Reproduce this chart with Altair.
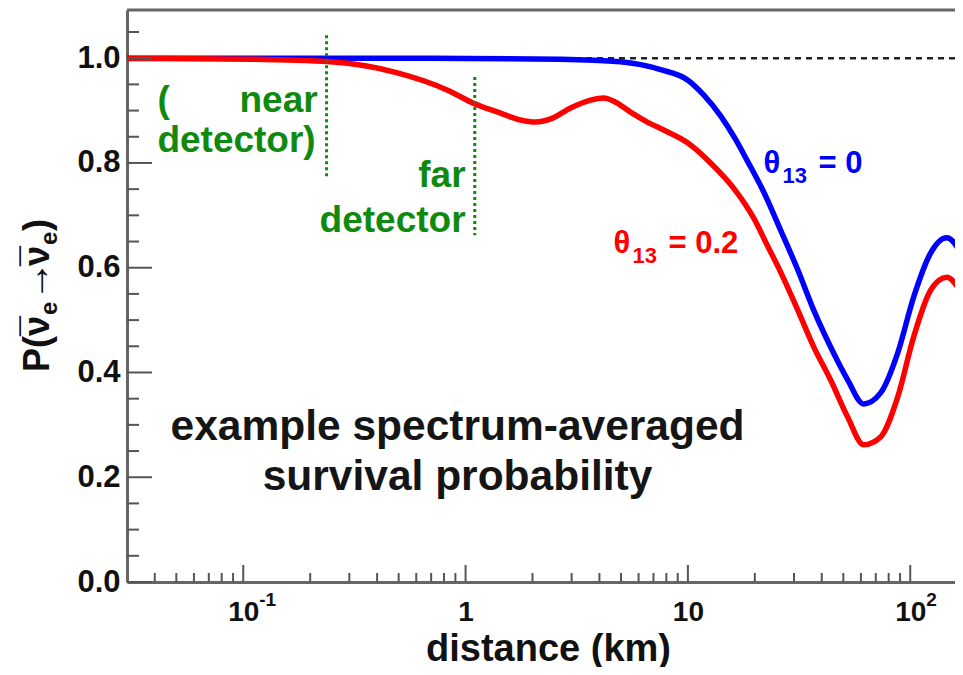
import altair as alt
import pandas as pd

# ---- data ----
blue_km = [0.03, 0.181, 1.0, 2.67, 4.98, 7.54, 10.0, 11.77, 14.03, 16.39, 18.56, 21.9, 26.1,
           31.2, 36.8, 43.8, 52.3, 61.7, 73.6, 87.8, 103.6, 123.5, 145.8, 173.9]
blue_p = [1.0, 1.0, 0.9995, 0.998, 0.993, 0.978, 0.958, 0.93, 0.89, 0.845, 0.803, 0.745, 0.672,
          0.596, 0.519, 0.449, 0.386, 0.340, 0.361, 0.437, 0.544, 0.628, 0.657, 0.620]

red_km = [0.03, 0.108, 0.247, 0.494, 0.830, 1.086, 1.437, 1.767, 2.065, 2.413, 2.967, 3.65,
          4.18, 4.73, 5.52, 6.45, 7.94, 10.0, 12.65, 16.05, 19.75, 22.8, 26.1, 31.2, 36.8,
          43.8, 52.3, 61.7, 73.6, 87.8, 103.6, 123.5, 145.8, 173.9]
red_p = [0.9995, 0.998, 0.993, 0.972, 0.939, 0.914, 0.895, 0.882, 0.878, 0.884, 0.905, 0.920,
         0.924, 0.916, 0.897, 0.880, 0.861, 0.838, 0.800, 0.752, 0.695, 0.642, 0.592, 0.519, 0.449,
         0.386, 0.315, 0.262, 0.277, 0.353, 0.468, 0.557, 0.582, 0.544]

series_names = ["θ13 = 0", "θ13 = 0.2"]
series_colors = ["#0000ff", "#ff0000"]

x_major = [0.1, 1, 10, 100]
x_minor = [0.04, 0.05, 0.06, 0.07, 0.08, 0.09,
           0.2, 0.3, 0.4, 0.5, 0.6, 0.7, 0.8, 0.9,
           2, 3, 4, 5, 6, 7, 8, 9,
           20, 30, 40, 50, 60, 70, 80, 90]
y_major = [0.0, 0.2, 0.4, 0.6, 0.8, 1.0]
y_minor = [0.05, 0.1, 0.15, 0.25, 0.3, 0.35, 0.45, 0.5, 0.55, 0.65, 0.7, 0.75, 0.85, 0.9, 0.95, 1.05]

sup_x = [0.1, 100]
sup_text = ["-1", "2"]

det_x = [0.237, 1.1]
det_y1 = [1.044, 0.964]
det_y2 = [0.773, 0.662]

green_left_text = ["(", "detector)"]
green_left_x = [0.0411, 0.0411]
green_left_y = [0.897, 0.821]
green_right_text = ["near", "far", "detector"]
green_right_x = [0.216, 1.0, 1.0]
green_right_y = [0.897, 0.754, 0.668]

theta_x = [21.9, 4.63]
theta_y = [0.781, 0.628]
theta_eq = ["= 0", "= 0.2"]

note_text = ["example spectrum-averaged", "survival probability"]
note_x = [0.92, 0.92]
note_y = [0.271, 0.176]

# y-axis title anchor (start of the rotated text), in data units
ytitle_x = [0.01337]
ytitle_y = [0.401]

# ---- layout constants ----
W, H = 828, 572
XDOM = [0.03, 159]
YDOM = [0, 1.092]
FONT = "Liberation Sans"
GREEN = "#0f8a0f"
AXC = "#666666"
INK = "#111111"

xs = alt.Scale(type="log", domain=XDOM)
ys = alt.Scale(domain=YDOM)

xaxis = alt.Axis(
    values=x_major, ticks=False, tickSize=0, grid=False, domainColor=AXC, domainWidth=3,
    labelExpr="datum.value == 1 ? '1' : '10'", labelFont=FONT, labelFontWeight="bold",
    labelFontSize=28, labelColor=INK, labelPadding=16, labelBaseline="top",
    title="distance (km)", titleFont=FONT, titleFontWeight="bold", titleFontSize=38,
    titleColor=INK, titleX=421, titleY=78, titleBaseline="alphabetic", labelFlush=False)
yaxis = alt.Axis(
    values=y_major, format=".1f", ticks=False, tickSize=0, grid=False, domainColor=AXC,
    domainWidth=3, labelFont=FONT, labelFontWeight="bold", labelFontSize=31,
    labelColor=INK, labelPadding=7, labelFlush=False, title="")


def X(field):
    return alt.X(field, type="quantitative", scale=xs, axis=xaxis)


def Y(field):
    return alt.Y(field, type="quantitative", scale=ys, axis=yaxis)


curves = pd.DataFrame({
    "km": blue_km + red_km,
    "p": blue_p + red_p,
    "s": [series_names[0]] * len(blue_km) + [series_names[1]] * len(red_km),
})

lines = alt.Chart(curves).mark_line(strokeWidth=5.5, interpolate="monotone", clip=True).encode(
    x=X("km:Q"),
    y=Y("p:Q"),
    color=alt.Color("s:N", scale=alt.Scale(domain=series_names, range=series_colors), legend=None),
    detail="s:N",
)

unity = alt.Chart(pd.DataFrame({"v": [1.0]})).mark_rule(
    color="#222", strokeWidth=2.5, strokeDash=[6, 5]).encode(y=Y("v:Q"))

top_border = alt.Chart(pd.DataFrame({"v": [0]})).mark_rule(
    color=AXC, strokeWidth=3).encode(y=alt.value(0), x=alt.value(0), x2=alt.value(W))

xmaj = alt.Chart(pd.DataFrame({"t": x_major})).mark_rule(color="#555", strokeWidth=2).encode(
    x=X("t:Q"), y=alt.value(H - 17), y2=alt.value(H))
xmin = alt.Chart(pd.DataFrame({"t": x_minor})).mark_rule(color="#555", strokeWidth=2).encode(
    x=X("t:Q"), y=alt.value(H - 9), y2=alt.value(H))
ymaj = alt.Chart(pd.DataFrame({"t": y_major})).mark_rule(color="#555", strokeWidth=2).encode(
    y=Y("t:Q"), x=alt.value(0), x2=alt.value(25))
ymin = alt.Chart(pd.DataFrame({"t": y_minor})).mark_rule(color="#555", strokeWidth=2).encode(
    y=Y("t:Q"), x=alt.value(0), x2=alt.value(12))

sups = alt.Chart(pd.DataFrame({"x": sup_x, "t": sup_text})).mark_text(
    font=FONT, fontWeight="bold", fontSize=19, color=INK, align="left", baseline="alphabetic",
    dx=16).encode(x=X("x:Q"), y=alt.value(H + 24), text="t:N")

dets = alt.Chart(pd.DataFrame({"x": det_x, "y1": det_y1, "y2": det_y2})).mark_rule(
    color=GREEN, strokeWidth=3, strokeDash=[3, 3]).encode(x=X("x:Q"), y=Y("y1:Q"), y2="y2:Q")

gl = alt.Chart(pd.DataFrame({"x": green_left_x, "y": green_left_y, "t": green_left_text})).mark_text(
    font=FONT, fontWeight="bold", fontSize=37, color=GREEN, align="left", baseline="alphabetic"
).encode(x=X("x:Q"), y=Y("y:Q"), text="t:N")
gr = alt.Chart(pd.DataFrame({"x": green_right_x, "y": green_right_y, "t": green_right_text})).mark_text(
    font=FONT, fontWeight="bold", fontSize=37, color=GREEN, align="right", baseline="alphabetic"
).encode(x=X("x:Q"), y=Y("y:Q"), text="t:N")

th_df = pd.DataFrame({"x": theta_x, "y": theta_y, "eq": theta_eq, "s": series_names})
th_color = alt.Color("s:N", scale=alt.Scale(domain=series_names, range=series_colors), legend=None)
th1 = alt.Chart(th_df).mark_text(font=FONT, fontWeight="bold", fontSize=31, align="left",
                                  baseline="alphabetic").encode(
    x=X("x:Q"), y=Y("y:Q"), text=alt.value("θ"), color=th_color)
th2 = alt.Chart(th_df).mark_text(font=FONT, fontWeight="bold", fontSize=22, align="left",
                                  baseline="alphabetic", dx=19, dy=10).encode(
    x=X("x:Q"), y=Y("y:Q"), text=alt.value("13"), color=th_color)
th3 = alt.Chart(th_df).mark_text(font=FONT, fontWeight="bold", fontSize=31, align="left",
                                  baseline="alphabetic", dx=55).encode(
    x=X("x:Q"), y=Y("y:Q"), text="eq:N", color=th_color)

note = alt.Chart(pd.DataFrame({"x": note_x, "y": note_y, "t": note_text})).mark_text(
    font=FONT, fontWeight="bold", fontSize=42.5, color="#151515", align="center", baseline="alphabetic"
).encode(x=X("x:Q"), y=Y("y:Q"), text="t:N")

# rotated y-axis title built from pieces: P( nu-bar_e -> nu-bar_e )
yt_df = pd.DataFrame({"x": ytitle_x, "y": ytitle_y})


def ytitle_piece(txt, dx, dy, size):
    return alt.Chart(yt_df).mark_text(
        font=FONT, fontWeight="bold", fontSize=size, color=INK, align="left",
        baseline="alphabetic", angle=270, dx=dx, dy=dy
    ).encode(x=X("x:Q"), y=Y("y:Q"), text=alt.value(txt))


MAIN, SUB = 36, 24
ytitle = [
    ytitle_piece("P(", 0, 0, MAIN),
    ytitle_piece("ν", 36, 0, MAIN),
    ytitle_piece("¯", 36, -2, MAIN),
    ytitle_piece("e", 57, 8, SUB),
    ytitle_piece("→", 71, 0, 40),
    ytitle_piece("ν", 106, 0, MAIN),
    ytitle_piece("¯", 106, -2, MAIN),
    ytitle_piece("e", 127, 8, SUB),
    ytitle_piece(")", 141, 0, MAIN),
]

chart = alt.layer(
    unity, lines, dets, xmaj, xmin, ymaj, ymin, top_border, sups, gl, gr, th1, th2, th3, note,
    *ytitle
).properties(
    width=W, height=H,
    autosize=alt.AutoSizeParams(type="none"),
    padding={"left": 119, "top": 2, "right": 0, "bottom": 85},
).configure_view(stroke=None).configure(background="white")

chart.save("out.html", embed_options={"renderer": "svg", "actions": False})
